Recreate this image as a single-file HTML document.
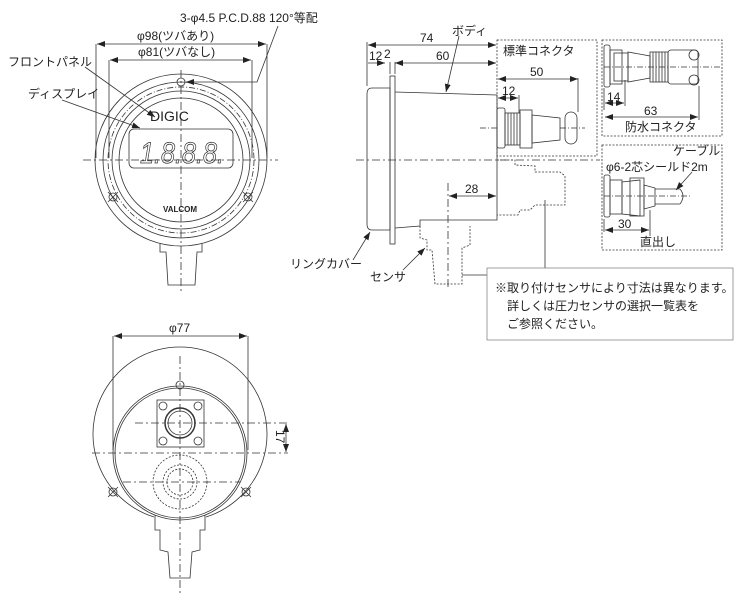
<!DOCTYPE html>
<html><head><meta charset="utf-8"><style>
body{margin:0;background:#fff}
svg{display:block;font-family:"Liberation Sans","Noto Sans CJK JP",sans-serif}
text{fill:#222}
</style></head><body>
<svg width="745" height="610" viewBox="0 0 745 610" xmlns="http://www.w3.org/2000/svg">
<defs>
<marker id="a" markerWidth="8" markerHeight="6" refX="8" refY="3" orient="auto-start-reverse" markerUnits="userSpaceOnUse"><path d="M0,0 L8,3 L0,6z" fill="#222"/></marker>
</defs>
<g fill="none" stroke="#333" stroke-width="0.8">
<!-- FRONT VIEW -->
<circle cx="181" cy="160" r="86"/>
<circle cx="181" cy="160" r="78"/>
<circle cx="181" cy="160" r="73" stroke-dasharray="6,2,1,2"/>
<circle cx="181" cy="160" r="69"/>
<circle cx="181" cy="160" r="62"/>
<rect x="129" y="129" width="104" height="39" rx="5"/>
<line x1="83" y1="160" x2="278" y2="160" stroke-dasharray="8,3,2,3"/>
<line x1="181" y1="70" x2="181" y2="292" stroke-dasharray="8,3,2,3"/>
<circle cx="181" cy="82" r="4"/>
<circle cx="113" cy="197" r="4"/><path d="M108,202 L118,192 M108,192 L118,202"/>
<circle cx="248" cy="197" r="4"/><path d="M243,202 L253,192 M243,192 L253,202"/>
<path d="M160,243 L160,252 L166,252 L168,285 L195,285 L197,252 L202,252 L202,243"/>
<!-- dims front -->
<line x1="96" y1="44" x2="96" y2="158"/><line x1="267" y1="44" x2="267" y2="158"/>
<line x1="97" y1="44" x2="266" y2="44" marker-start="url(#a)" marker-end="url(#a)"/>
<line x1="109" y1="60" x2="109" y2="158"/><line x1="252" y1="60" x2="252" y2="158"/>
<line x1="110" y1="60" x2="251" y2="60" marker-start="url(#a)" marker-end="url(#a)"/>
<path d="M278,26 L257,82 L186,82" marker-end="url(#a)"/>
<line x1="85" y1="67" x2="155" y2="117" marker-end="url(#a)"/>
<line x1="62" y1="100" x2="140" y2="128" marker-end="url(#a)"/>

<!-- SIDE VIEW -->
<path d="M372,88 L390,88 L390,230 L372,230 Q367,230 367,224 L367,94 Q367,88 372,88z"/>
<rect x="390" y="76" width="5" height="168"/>
<path d="M395,92 L497,95 L497,220 L420,220 L420,226 L395,228"/>
<g stroke-dasharray="2,1.5">
<path d="M497,160 L515,160 L515,165 L535,166 L535,172 L560,172 L565,176 L565,205 L535,205 L530,210 L520,210 L518,215 L497,215"/>
<path d="M420,226 L420,238 L427,240 L427,250 L432,250 L435,284 L462,284 L462,248 L470,245 L470,226"/>
</g>
<line x1="356" y1="160" x2="600" y2="160" stroke-dasharray="8,3,2,3"/>
<line x1="448" y1="183" x2="448" y2="290" stroke-dasharray="8,3,2,3"/>
<!-- connector -->
<rect x="497" y="108" width="8" height="40" rx="2"/>
<rect x="505" y="113" width="15" height="32"/>
<path d="M508,113 V145 M511,113 V145 M514,113 V145 M517,113 V145"/>
<rect x="520" y="110" width="12" height="38"/>
<path d="M532,115 L560,118 L560,140 L532,143z"/>
<rect x="565" y="112" width="12" height="32" rx="6"/>
<line x1="560" y1="128" x2="585" y2="128" stroke-dasharray="6,2,1,2"/>
<line x1="480" y1="128" x2="497" y2="128" stroke-dasharray="6,2,1,2"/>
<!-- dashed boxes -->
<g stroke-dasharray="2,1.5">
<rect x="497" y="40" width="100" height="116"/>
<rect x="602" y="40" width="120" height="96"/>
<rect x="602" y="145" width="120" height="105"/>
</g>
<!-- side dims -->
<line x1="367" y1="42" x2="367" y2="86"/><line x1="390" y1="62" x2="390" y2="74"/>
<line x1="368" y1="45" x2="496" y2="45" marker-start="url(#a)" marker-end="url(#a)"/>
<line x1="368" y1="63" x2="385" y2="63" marker-end="url(#a)"/>
<line x1="395" y1="63" x2="496" y2="63" marker-start="url(#a)" marker-end="url(#a)"/>
<line x1="395" y1="62" x2="395" y2="74"/>
<line x1="498" y1="79" x2="578" y2="79" marker-start="url(#a)" marker-end="url(#a)"/>
<line x1="578" y1="78" x2="578" y2="112"/>
<line x1="498" y1="98" x2="518" y2="98" marker-start="url(#a)" marker-end="url(#a)"/>
<line x1="519" y1="95" x2="519" y2="113"/>
<line x1="449" y1="196" x2="496" y2="196" marker-start="url(#a)" marker-end="url(#a)"/>
<line x1="459" y1="36" x2="446" y2="92" marker-end="url(#a)"/>
<line x1="353" y1="260" x2="370" y2="232" marker-end="url(#a)"/>
<line x1="403" y1="270" x2="425" y2="248" marker-end="url(#a)"/>
<path d="M462,275 L487,275"/>
<line x1="545" y1="200" x2="545" y2="268"/>
<!-- waterproof connector -->
<rect x="604" y="45" width="6" height="42" rx="2"/>
<rect x="610" y="50" width="12" height="34"/>
<rect x="614" y="53" width="14" height="28"/>
<path d="M628,52 L650,56 L650,78 L628,82z"/>
<rect x="650" y="52" width="18" height="30"/>
<path d="M653,52 V82 M656,52 V82 M659,52 V82 M662,52 V82 M665,52 V82"/>
<rect x="668" y="50" width="30" height="34" rx="3"/>
<circle cx="694" cy="55" r="5"/><circle cx="694" cy="80" r="5"/>
<line x1="604" y1="67" x2="722" y2="67" stroke-dasharray="6,2,1,2"/>
<line x1="604" y1="88" x2="604" y2="110"/><line x1="625" y1="80" x2="625" y2="106"/>
<line x1="605" y1="103" x2="624" y2="103" marker-start="url(#a)" marker-end="url(#a)"/>
<line x1="699" y1="86" x2="699" y2="120"/>
<line x1="605" y1="117" x2="698" y2="117" marker-start="url(#a)" marker-end="url(#a)"/>
<!-- cable -->
<rect x="604" y="175" width="6" height="42" rx="2"/>
<rect x="610" y="180" width="12" height="34"/>
<path d="M622,182 L640,180 L640,216 L622,214z"/>
<rect x="630" y="178" width="14" height="38"/>
<path d="M644,185 L655,188 L655,206 L644,209z"/>
<path d="M655,189 L680,189 M655,204 L680,204"/>
<path d="M680,189 Q686,196 680,204"/>
<line x1="604" y1="196" x2="690" y2="196" stroke-dasharray="6,2,1,2"/>
<line x1="604" y1="219" x2="604" y2="232"/><line x1="650" y1="210" x2="650" y2="236"/>
<line x1="605" y1="230" x2="649" y2="230" marker-start="url(#a)" marker-end="url(#a)"/>
<line x1="692" y1="172" x2="676" y2="190" marker-end="url(#a)"/>
<!-- note box -->
<rect x="487" y="268" width="246" height="72" stroke="#888"/>

<!-- BOTTOM VIEW -->
<path d="M154,517 A87,87 0 1 1 206,517"/>
<circle cx="180" cy="453" r="67"/>
<circle cx="180" cy="453" r="65"/>
<circle cx="180" cy="385" r="4"/>
<line x1="180" y1="356" x2="180" y2="596" stroke-dasharray="8,3,2,3"/>
<line x1="92" y1="453" x2="288" y2="453" stroke-dasharray="8,3,2,3"/>
<line x1="135" y1="423" x2="288" y2="423" stroke-dasharray="8,3,2,3"/>
<line x1="123" y1="482" x2="240" y2="482" stroke-dasharray="8,3,2,3"/>
<rect x="157" y="400" width="47" height="47"/>
<circle cx="163" cy="406" r="4"/><circle cx="198" cy="406" r="4"/><circle cx="163" cy="441" r="4"/><circle cx="198" cy="441" r="4"/>
<circle cx="180" cy="423" r="15" stroke-width="1.5"/><circle cx="180" cy="423" r="12"/>
<circle cx="180" cy="482" r="27" stroke-dasharray="2,1.5"/>
<circle cx="180" cy="482" r="17" stroke-dasharray="2,1.5"/>
<circle cx="180" cy="482" r="13" stroke-dasharray="2,1.5"/>
<circle cx="113" cy="492" r="4"/><path d="M108,497 L118,487 M108,487 L118,497"/>
<circle cx="246" cy="492" r="4"/><path d="M241,497 L251,487 M241,487 L251,497"/>
<path d="M155,515 L155,530 L160,530 L160,550 L168,552 L170,578 L190,578 L192,552 L200,550 L200,530 L205,530 L205,515"/>
<line x1="113" y1="336" x2="113" y2="450"/><line x1="248" y1="336" x2="248" y2="450"/>
<line x1="114" y1="336" x2="247" y2="336" marker-start="url(#a)" marker-end="url(#a)"/>
<line x1="286" y1="424" x2="286" y2="452" marker-start="url(#a)" marker-end="url(#a)"/>
</g>
<!-- display digits -->
<text x="140" y="163" font-size="30" font-style="italic" textLength="84" lengthAdjust="spacingAndGlyphs" style="fill:none;stroke:#333;stroke-width:0.8">1.8.8.8.</text>
<g font-size="12">
<text x="180" y="22">3-φ4.5 P.C.D.88 120°等配</text>
<text x="137" y="40">φ98(ツバあり)</text>
<text x="138" y="56">φ81(ツバなし)</text>
<text x="8" y="66">フロントパネル</text>
<text x="28" y="98">ディスプレイ</text>
<text x="150" y="121" font-size="14">DIGIC</text>
<text x="163" y="212" font-size="8" font-weight="bold">VALCOM</text>
<text x="420" y="42">74</text>
<text x="452" y="35">ボディ</text>
<text x="369" y="60">12</text><text x="384" y="58">2</text>
<text x="436" y="60">60</text>
<text x="503" y="55">標準コネクタ</text>
<text x="530" y="76">50</text>
<text x="502" y="95">12</text>
<text x="465" y="193">28</text>
<text x="607" y="101">14</text>
<text x="644" y="115">63</text>
<text x="625" y="131">防水コネクタ</text>
<text x="673" y="155">ケーブル</text>
<text x="606" y="171">φ6-2芯シールド2m</text>
<text x="618" y="228">30</text>
<text x="640" y="246">直出し</text>
<text x="290" y="268">リングカバー</text>
<text x="370" y="281">センサ</text>
<text x="495" y="292">※取り付けセンサにより寸法は異なります。</text>
<text x="507" y="310">詳しくは圧力センサの選択一覧表を</text>
<text x="507" y="328">ご参照ください。</text>
<text x="169" y="332">φ77</text>
<text transform="translate(276,430) rotate(90)">17</text>
</g>
</svg>
</body></html>
